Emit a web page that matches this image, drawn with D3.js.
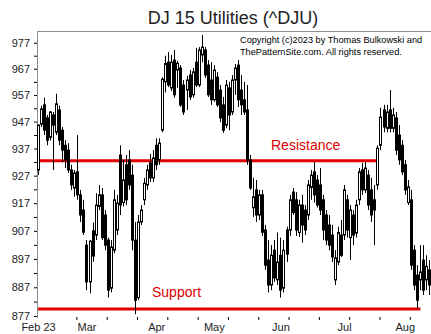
<!DOCTYPE html>
<html lang="en">
<head>
<meta charset="UTF-8">
<title>DJ 15 Utilities (^DJU)</title>
<script src="https://d3js.org/d3.v7.min.js"></script>
<style>
    body { margin: 0; background: #fff; }
    text { font-family: Arial, "Liberation Sans", sans-serif; }
</style>
</head>
<body>
<script>

    // daily bars, Feb 6 .. Aug 11 2023
    var opens = [929.1, 946.0, 953.3, 948.4, 941.1, 949.5, 943.0, 951.4, 943.8, 938.2,
        936.4, 929.1, 922.5, 928.4, 920.0, 914.5, 901.9, 888.9, 907.0, 905.5,
        915.8, 920.0, 912.7, 903.7, 886.7, 900.1, 907.3, 934.6, 917.2, 931.0,
        932.8, 927.2, 903.7, 883.4, 910.2, 918.2, 923.6, 931.7, 926.2, 938.2,
        932.8, 943.8, 962.0, 969.5, 959.7, 970.3, 966.5, 967.3, 960.8, 958.9,
        964.6, 957.1, 969.5, 960.8, 972.3, 974.2, 968.4, 962.7, 955.2, 963.8,
        958.9, 953.3, 945.7, 959.7, 950.6, 962.7, 968.4, 958.9, 955.2, 951.4,
        932.8, 915.3, 921.8, 912.7, 920.0, 907.3, 896.6, 887.8, 900.1, 889.6,
        898.3, 886.7, 907.3, 907.3, 921.0, 918.2, 906.4, 916.3, 914.5, 912.7,
        922.7, 928.4, 925.4, 923.6, 918.2, 912.7, 909.1, 905.5, 889.6, 895.9,
        905.5, 905.5, 918.2, 904.6, 912.7, 906.2, 918.2, 929.1, 921.8, 927.2,
        921.8, 918.2, 923.6, 938.2, 951.4, 944.5, 951.4, 944.5, 948.4, 942.0,
        938.2, 931.0, 917.2, 918.2, 900.1, 891.3, 889.6, 896.6, 889.6, 893.1];
    var highs = [946.0, 953.0, 956.0, 949.5, 951.0, 950.6, 957.5, 953.0, 945.0, 940.1,
        939.0, 931.0, 929.1, 942.0, 921.8, 918.2, 903.7, 903.7, 910.0, 920.6,
        923.6, 922.5, 914.5, 904.6, 903.7, 921.8, 920.0, 938.2, 932.8, 934.6,
        936.4, 931.0, 910.2, 912.7, 916.3, 926.2, 931.0, 935.0, 936.4, 940.8,
        940.8, 963.8, 972.0, 973.4, 972.3, 974.2, 970.0, 968.4, 962.7, 964.3,
        966.5, 967.3, 975.0, 975.3, 980.0, 975.3, 970.3, 969.5, 968.4, 965.7,
        960.8, 956.3, 962.7, 962.0, 964.6, 968.8, 970.3, 964.6, 962.0, 960.8,
        934.6, 926.2, 925.4, 921.8, 921.8, 909.1, 903.7, 901.9, 903.7, 906.4,
        904.6, 903.7, 908.5, 920.0, 922.5, 921.0, 918.2, 920.0, 916.3, 925.4,
        929.1, 932.0, 927.2, 929.8, 920.0, 914.5, 912.7, 909.1, 900.1, 908.5,
        910.9, 923.6, 920.0, 916.3, 914.5, 918.2, 929.8, 931.7, 932.0, 929.1,
        926.2, 923.6, 938.2, 952.2, 953.3, 953.3, 958.9, 952.2, 950.6, 945.7,
        940.1, 932.8, 925.4, 921.8, 901.9, 894.8, 901.9, 901.9, 898.3, 896.6];
    var lows = [927.2, 945.0, 942.0, 938.2, 940.0, 929.1, 942.0, 938.2, 932.0, 929.8,
        928.0, 921.8, 919.3, 918.2, 910.2, 905.5, 886.0, 884.9, 896.0, 903.7,
        914.5, 903.7, 900.1, 883.4, 885.2, 899.0, 905.5, 912.7, 915.8, 916.3,
        921.8, 900.1, 877.6, 882.5, 909.1, 916.3, 921.8, 924.7, 924.7, 929.1,
        931.0, 943.0, 958.0, 960.0, 958.5, 956.0, 959.7, 952.5, 949.5, 951.4,
        955.2, 956.0, 960.0, 960.0, 969.5, 963.5, 956.3, 953.3, 954.5, 952.5,
        946.8, 942.8, 944.5, 943.8, 949.5, 957.1, 952.5, 949.5, 949.5, 931.0,
        921.8, 912.0, 910.2, 910.9, 905.2, 893.1, 885.2, 886.0, 888.9, 887.8,
        883.4, 885.2, 895.9, 905.2, 912.7, 905.2, 904.8, 902.8, 905.5, 910.9,
        918.2, 917.2, 915.4, 912.7, 903.7, 901.9, 900.1, 895.9, 887.8, 894.8,
        897.7, 903.7, 904.6, 896.6, 901.9, 904.6, 916.3, 920.0, 920.7, 914.5,
        910.2, 901.9, 921.8, 936.4, 943.0, 943.0, 943.0, 943.0, 934.6, 931.0,
        927.2, 920.0, 916.3, 893.1, 886.0, 879.5, 886.0, 884.3, 886.0, 884.3];
    var closes = [945.7, 951.8, 943.8, 940.1, 950.6, 945.7, 953.7, 940.1, 936.4, 932.8,
        929.1, 923.6, 928.0, 920.0, 912.7, 906.5, 888.9, 903.3, 898.0, 916.3,
        920.0, 904.6, 901.9, 886.0, 901.2, 918.2, 917.0, 916.3, 925.4, 918.2,
        923.6, 903.7, 882.5, 910.2, 914.5, 924.2, 929.1, 926.2, 933.5, 931.0,
        939.0, 963.0, 969.0, 960.8, 969.5, 957.1, 969.1, 953.3, 950.6, 962.7,
        956.3, 965.8, 960.8, 974.2, 975.3, 964.6, 957.1, 955.2, 966.5, 953.3,
        948.4, 943.8, 960.8, 949.5, 962.7, 967.3, 955.2, 953.3, 950.6, 932.8,
        922.5, 919.3, 912.7, 920.0, 906.5, 894.8, 887.8, 898.3, 890.3, 895.9,
        886.0, 900.1, 898.7, 918.2, 913.6, 907.3, 916.3, 909.1, 907.3, 923.6,
        927.2, 920.0, 916.3, 914.5, 907.3, 903.7, 901.9, 897.7, 897.4, 906.4,
        898.3, 921.8, 907.3, 914.5, 905.5, 916.3, 928.4, 921.8, 929.8, 916.3,
        912.7, 914.5, 937.1, 948.7, 945.0, 950.6, 944.5, 949.5, 936.4, 932.8,
        928.4, 921.8, 922.9, 894.8, 887.8, 882.5, 892.4, 886.0, 894.4, 887.8];

    var monthLabels = ["Feb 23", "Mar", "Apr", "May", "Jun", "Jul", "Aug"];
    var monthBars = [0, 16, 39, 58, 80, 101, 121];
    var xTickBars = [13, 23, 33, 43, 53, 63, 73, 83, 93, 103, 113, 123];
    var yTicks = [877, 882, 887, 892, 897, 902, 907, 912, 917, 922, 927,
        932, 937, 942, 947, 952, 957, 962, 967, 972, 977];
    var levelNames = ["Resistance", "Support"];
    var levelValues = [932.5, 879.4];
    var levelEndBar = [112, 126];

    var red = "#e00000";

    var svg = d3.select("body").append("svg")
        .attr("width", 431)
        .attr("height", 334);

    var x = d3.scaleLinear()
        .domain([0, opens.length])
        .range([37, 431]);

    var y = d3.scaleLog()
        .domain([877, 977])
        .range([316, 42.7]);

    // frame
    svg.append("line")
        .attr("x1", 37).attr("x2", 431)
        .attr("y1", 31.5).attr("y2", 31.5)
        .attr("stroke", "#8c8c8c");
    svg.append("line")
        .attr("x1", 37.5).attr("x2", 37.5)
        .attr("y1", 31).attr("y2", 318)
        .attr("stroke", "#8c8c8c");

    // y axis
    var yAxis = svg.append("g")
        .attr("transform", "translate(37,0)")
        .call(d3.axisLeft(y)
            .tickValues(yTicks)
            .tickSize(3)
            .tickPadding(4)
            .tickFormat(function (d) { return (d - 877) % 10 === 0 ? d : ""; }));
    yAxis.select(".domain").remove();
    yAxis.selectAll("text")
        .attr("font-family", "Arial, 'Liberation Sans', sans-serif")
        .attr("font-size", 11)
        .attr("fill", "#222");

    // x axis
    var xAxis = svg.append("g")
        .attr("transform", "translate(0,317)")
        .call(d3.axisBottom(x)
            .tickValues(xTickBars)
            .tickSize(3)
            .tickFormat(""));
    xAxis.select(".domain").remove();

    svg.append("g").selectAll("text")
        .data(monthLabels)
        .enter()
        .append("text")
        .attr("x", function (d, i) { return x(monthBars[i] + 0.5); })
        .attr("y", 331)
        .attr("text-anchor", "middle")
        .attr("font-size", 11)
        .attr("fill", "#222")
        .text(function (d) { return d; });

    // resistance / support
    svg.append("g").selectAll("line")
        .data(levelValues)
        .enter()
        .append("line")
        .attr("x1", 38)
        .attr("x2", function (d, i) { return x(levelEndBar[i] + 0.5); })
        .attr("y1", function (d) { return y(d); })
        .attr("y2", function (d) { return y(d); })
        .attr("stroke", red)
        .attr("stroke-width", 3);

    svg.append("text")
        .attr("x", 271).attr("y", y(levelValues[0]) - 11)
        .attr("font-size", 14)
        .attr("fill", red)
        .text(levelNames[0]);
    svg.append("text")
        .attr("x", 152).attr("y", y(levelValues[1]) - 12)
        .attr("font-size", 14)
        .attr("fill", red)
        .text(levelNames[1]);

    // candles
    var bars = svg.append("g").selectAll("g")
        .data(opens)
        .enter()
        .append("g");

    function left(i) { return Math.round(x(i)); }

    bars.append("line")
        .attr("x1", function (d, i) { return left(i) + 1.5; })
        .attr("x2", function (d, i) { return left(i) + 1.5; })
        .attr("y1", function (d, i) { return y(highs[i]); })
        .attr("y2", function (d, i) { return y(lows[i]); })
        .attr("stroke", "#000");

    bars.append("rect")
        .attr("x", function (d, i) { return left(i) + 0.5; })
        .attr("width", 2)
        .attr("y", function (d, i) { return y(Math.max(opens[i], closes[i])); })
        .attr("height", function (d, i) {
            return Math.max(1, Math.abs(y(opens[i]) - y(closes[i])));
        })
        .attr("fill", function (d, i) { return closes[i] >= opens[i] ? "#fff" : "#000"; })
        .attr("stroke", "#000");

    // title and copyright
    svg.append("text")
        .attr("x", 233).attr("y", 24)
        .attr("text-anchor", "middle")
        .attr("font-size", 18)
        .attr("fill", "#222")
        .text("DJ 15 Utilities (^DJU)");

    svg.append("text")
        .attr("x", 240).attr("y", 43)
        .attr("font-size", 9.2)
        .text("Copyright (c)2023 by Thomas Bulkowski and");
    svg.append("text")
        .attr("x", 240).attr("y", 55)
        .attr("font-size", 9.2)
        .text("ThePatternSite.com. All rights reserved.");

</script>
</body>
</html>
